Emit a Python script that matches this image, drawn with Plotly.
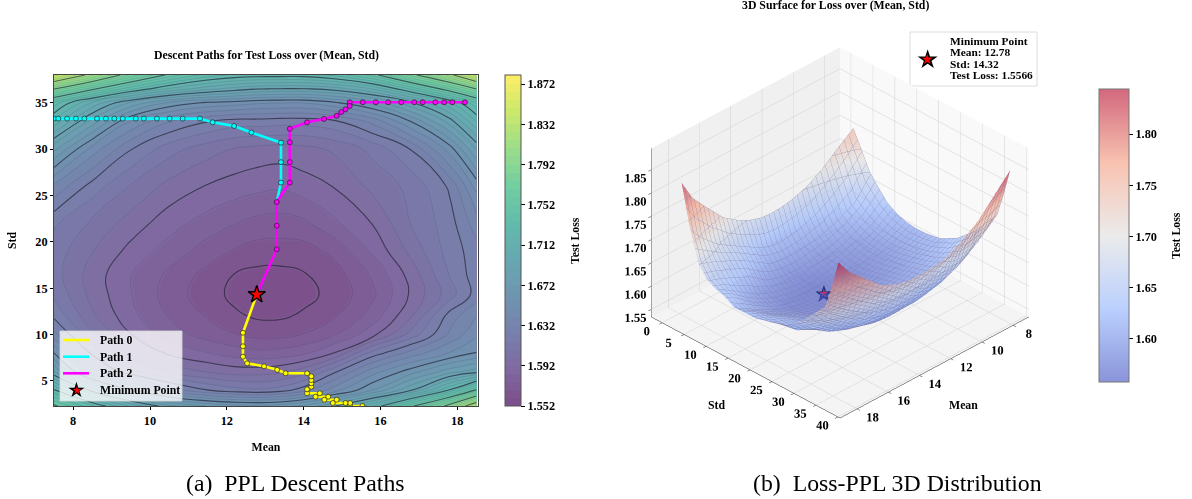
import plotly.graph_objects as go

W, H = 1192, 499
SERIF = "Liberation Serif"

# ---------- data ----------
mean_grid = [7.5, 8.5, 9.5, 10.5, 11.5, 12.2, 12.8, 13.4, 14, 14.8, 15.8, 16.8, 17.8, 18.5]
std_grid = [2.3, 4, 6, 8, 10, 12, 14.3, 16.5, 19, 22, 26, 30, 33, 35, 36.5, 38]
loss_grid = [
    [1.755, 1.730, 1.703, 1.683, 1.672, 1.668, 1.667, 1.669, 1.675, 1.688, 1.712, 1.750, 1.790, 1.835],
    [1.722, 1.685, 1.658, 1.637, 1.625, 1.620, 1.618, 1.621, 1.629, 1.645, 1.665, 1.688, 1.722, 1.755],
    [1.681, 1.637, 1.619, 1.607, 1.600, 1.597, 1.597, 1.599, 1.605, 1.623, 1.645, 1.661, 1.677, 1.685],
    [1.657, 1.623, 1.603, 1.591, 1.585, 1.581, 1.579, 1.580, 1.583, 1.593, 1.620, 1.636, 1.649, 1.657],
    [1.635, 1.610, 1.593, 1.581, 1.573, 1.569, 1.566, 1.566, 1.569, 1.576, 1.590, 1.612, 1.634, 1.647],
    [1.623, 1.602, 1.587, 1.576, 1.568, 1.562, 1.5594, 1.5594, 1.5618, 1.568, 1.580, 1.600, 1.628, 1.641],
    [1.615, 1.598, 1.585, 1.573, 1.564, 1.5586, 1.5566, 1.5572, 1.5582, 1.563, 1.575, 1.594, 1.613, 1.628],
    [1.612, 1.597, 1.585, 1.575, 1.566, 1.5604, 1.5584, 1.5582, 1.560, 1.565, 1.578, 1.596, 1.617, 1.629],
    [1.613, 1.601, 1.590, 1.581, 1.573, 1.568, 1.565, 1.565, 1.565, 1.571, 1.586, 1.603, 1.620, 1.629],
    [1.618, 1.607, 1.597, 1.588, 1.581, 1.577, 1.574, 1.573, 1.575, 1.583, 1.593, 1.609, 1.621, 1.637],
    [1.639, 1.621, 1.608, 1.598, 1.592, 1.589, 1.587, 1.586, 1.589, 1.593, 1.603, 1.611, 1.626, 1.651],
    [1.674, 1.645, 1.625, 1.612, 1.604, 1.600, 1.598, 1.597, 1.598, 1.602, 1.611, 1.625, 1.652, 1.681],
    [1.711, 1.677, 1.648, 1.633, 1.625, 1.621, 1.621, 1.620, 1.620, 1.623, 1.635, 1.657, 1.684, 1.713],
    [1.733, 1.703, 1.679, 1.663, 1.655, 1.653, 1.650, 1.649, 1.649, 1.655, 1.667, 1.687, 1.711, 1.735],
    [1.785, 1.755, 1.730, 1.711, 1.699, 1.693, 1.689, 1.688, 1.688, 1.692, 1.705, 1.730, 1.760, 1.785],
    [1.845, 1.810, 1.775, 1.750, 1.733, 1.727, 1.725, 1.725, 1.725, 1.731, 1.748, 1.780, 1.812, 1.845],
]

path0_mean = [15.53, 15.21, 15.21, 15.09, 14.76, 14.86, 14.54, 14.64, 14.31, 14.42, 14.09, 14.09, 14.2, 14.2, 14.2, 14.2,
              14.09, 13.53, 13.31, 12.97, 12.53, 12.42, 12.42, 12.42, 12.78]
path0_std = [2.3, 2.3, 2.62, 2.62, 2.62, 2.98, 2.98, 3.3, 3.3, 3.67, 3.67, 4.1, 4.38, 4.75, 5.1, 5.5,
             5.83, 5.83, 6.2, 6.58, 6.9, 7.62, 8.74, 10.2, 14.32]
path1_mean = [7.5, 7.61, 7.84, 8.07, 8.29, 8.62, 8.85, 9.07, 9.29, 9.63, 9.84, 10.18, 10.51, 10.85, 11.3,
              11.63, 12.19, 12.64, 13.41, 13.41, 13.41, 13.3]
path1_std = [33.3, 33.3, 33.3, 33.3, 33.3, 33.3, 33.3, 33.3, 33.3, 33.3, 33.3, 33.3, 33.3, 33.3, 33.3,
             32.9, 32.5, 31.8, 30.7, 28.6, 26.4, 24.3]
path2_mean = [18.2, 17.87, 17.66, 17.43, 17.1, 16.88, 16.54, 16.2, 15.88, 15.54, 15.2, 15.2, 15.09, 14.98, 14.86,
              14.53, 14.09, 13.64, 13.64, 13.64, 13.64, 13.3, 13.3, 13.3, 12.78]
path2_std = [35.06, 35.06, 35.06, 35.06, 35.06, 35.06, 35.06, 35.06, 35.06, 35.06, 35.06, 34.66, 34.3, 34.0, 33.6,
             33.26, 32.9, 32.2, 30.75, 28.6, 26.4, 24.3, 21.75, 19.2, 14.32]
path_names = ["Path 0", "Path 1", "Path 2"]
path_colors = ["#ffff00", "#00ffff", "#ff00ff"]

min_mean, min_std, min_loss = 12.78, 14.32, 1.5566
min_lines = ["Minimum Point", "Mean: 12.78", "Std: 14.32", "Test Loss: 1.5566"]

left_cbar_ticks = [1.552, 1.592, 1.632, 1.672, 1.712, 1.752, 1.792, 1.832, 1.872]
right_cbar_ticks = [1.60, 1.65, 1.70, 1.75, 1.80]
z_ticks = [1.55, 1.60, 1.65, 1.70, 1.75, 1.80, 1.85]
std_ticks_3d = [0, 5, 10, 15, 20, 25, 30, 35, 40]
mean_ticks_3d = [8, 10, 12, 14, 16, 18]

# viridis and coolwarm as they look after the alpha of the original
viridis_soft = ["#7c4d87", "#7f69a0", "#7880ac", "#6f95b0", "#67a8b0",
                "#62bbac", "#72cda1", "#9add8a", "#cbe86b", "#feee66"]
coolwarm_soft = ["#8994d9", "#bbd0fe", "#ebebeb", "#f8c2b0", "#d2687d"]
coolwarm = ["#3b4cc0", "#8db0fe", "#dddddd", "#f49a7b", "#b40426"]


def scale(cols):
    return [[i / (len(cols) - 1), c] for i, c in enumerate(cols)]


def px_x(p):
    return p / W


def px_y(p):
    return 1 - p / H


bold = dict(family=SERIF, size=12.3, color="black", weight="bold")
LABEL = 11.8
fig = go.Figure()

# ---------- left panel ----------
fig.add_trace(go.Contour(
    x=mean_grid, y=std_grid, z=loss_grid, zmin=1.552, zmax=1.881,
    colorscale=scale(viridis_soft), autocontour=False,
    contours=dict(coloring="fill", start=1.552, end=1.88, size=0.008),
    line=dict(width=0, smoothing=1.3),
    showlegend=False, hoverinfo="skip",
    colorbar=dict(x=px_x(505), xanchor="left", y=px_y(240.5), yanchor="middle",
                  len=331 / H, thickness=16, xpad=0, ypad=0,
                  outlinecolor="#555", outlinewidth=1, ticks="outside", ticklen=4, tickcolor="black",
                  tickmode="array", tickvals=left_cbar_ticks, ticktext=[f"{t:.3f}" for t in left_cbar_ticks],
                  tickfont=bold),
))
fig.add_trace(go.Contour(
    x=mean_grid, y=std_grid, z=loss_grid, autocontour=False, showscale=False,
    contours=dict(coloring="none", start=1.5526, end=1.8806, size=0.008),
    line=dict(width=0.5, color="rgba(40,40,60,0.28)", smoothing=1.3),
    showlegend=False, hoverinfo="skip",
))
fig.add_trace(go.Contour(
    x=mean_grid, y=std_grid, z=loss_grid, autocontour=False, showscale=False,
    contours=dict(coloring="none", start=1.5606, end=1.8486, size=0.032),
    line=dict(width=1.1, color="rgba(30,30,45,0.6)", smoothing=1.3),
    showlegend=False, hoverinfo="skip",
))

paths = [(path0_mean, path0_std), (path1_mean, path1_std), (path2_mean, path2_std)]
for (mx, sx), name, col in zip(paths, path_names, path_colors):
    fig.add_trace(go.Scatter(x=mx, y=sx, mode="lines", name=name, showlegend=False,
                             line=dict(color=col, width=2.6), hoverinfo="skip"))
for (mx, sx), name, col in zip(paths, path_names, path_colors):
    fig.add_trace(go.Scatter(x=mx[:-1], y=sx[:-1], mode="markers", showlegend=False,
                             marker=dict(color=col, size=5, line=dict(color="#222", width=0.7)),
                             hoverinfo="skip"))
fig.add_trace(go.Scatter(x=[min_mean], y=[min_std], mode="markers", showlegend=False,
                         marker=dict(symbol="star", color="red", size=13, line=dict(color="black", width=1.4)),
                         hoverinfo="skip"))

# ---------- right panel ----------
fig.add_trace(go.Surface(
    x=mean_grid, y=std_grid, z=loss_grid, cmin=1.558, cmax=1.844,
    colorscale=scale(coolwarm), opacity=0.62, scene="scene", showscale=False,
    lighting=dict(ambient=1.0, diffuse=0.1, specular=0.0, roughness=1.0),
    contours=dict(
        x=dict(show=True, start=7.5, end=18.5, size=0.3, color="rgba(60,60,80,0.5)", width=1),
        y=dict(show=True, start=2.3, end=38, size=1.0, color="rgba(60,60,80,0.5)", width=1),
        z=dict(show=True, start=1.68, end=1.84, size=0.04, color="rgba(80,80,90,0.6)", width=1),
    ),
    hoverinfo="skip",
))
fig.add_trace(go.Scatter(x=[None], y=[None], mode="markers", showlegend=False, hoverinfo="skip",
                         marker=dict(color=[1.7], cmin=1.558, cmax=1.844, colorscale=scale(coolwarm_soft),
                                     showscale=True,
                                     colorbar=dict(x=px_x(1099), xanchor="left", y=px_y(235.5), yanchor="middle",
                                                   len=293 / H, thickness=30, xpad=0, ypad=0,
                                                   outlinecolor="#777", outlinewidth=1, ticks="outside", ticklen=4,
                                                   tickcolor="black", tickmode="array", tickvals=right_cbar_ticks,
                                                   ticktext=[f"{t:.2f}" for t in right_cbar_ticks], tickfont=bold))))
fig.add_trace(go.Scatter3d(x=[min_mean], y=[min_std], z=[min_loss], mode="text", text=["★"],
                           textposition="middle center",
                           textfont=dict(family="DejaVu Sans", size=24, color="#1c2a78"),
                           showlegend=False, hoverinfo="skip"))
fig.add_trace(go.Scatter3d(x=[min_mean], y=[min_std], z=[min_loss], mode="text", text=["★"],
                           textposition="middle center",
                           textfont=dict(family="DejaVu Sans", size=12, color="#c0306e"),
                           showlegend=False, hoverinfo="skip"))

axis3d = dict(showbackground=True, gridcolor="#cfcfcf", gridwidth=1, showline=True, linecolor="#222", linewidth=1,
              ticks="outside", ticklen=4, tickcolor="#222", tickangle=0,
              tickfont=dict(family=SERIF, size=12.3, color="black", weight="bold"),
              showspikes=False, zeroline=False, tickmode="array", title=dict(text=""))


def ax3d(**kw):
    d = dict(axis3d)
    d.update(kw)
    return d


def note(text, x, y, size, **kw):
    return dict(text=text, x=px_x(x), y=px_y(y), xref="paper", yref="paper", showarrow=False,
                xanchor=kw.pop("xanchor", "center"), yanchor="middle", font=dict(family=kw.pop("family", SERIF), size=size, color=kw.pop("color", "black")), **kw)


legend_rows = [340, 356.7, 373.3]
legend_shapes = [dict(type="rect", xref="paper", yref="paper", x0=px_x(60), x1=px_x(182), y0=px_y(401), y1=px_y(331),
                      line=dict(color="rgba(215,215,215,0.8)", width=1), fillcolor="rgba(255,255,255,0.78)", layer="above")]
for ry, col in zip(legend_rows, path_colors):
    legend_shapes.append(dict(type="line", xref="paper", yref="paper", x0=px_x(63), x1=px_x(89), y0=px_y(ry), y1=px_y(ry),
                              line=dict(color=col, width=2.6), layer="above"))
legend_notes = [note(f"<b>{n}</b>", 98, ry, LABEL, xanchor="left") for n, ry in zip(path_names, legend_rows)]
legend_notes += [note("<b>Minimum Point</b>", 98, 390, LABEL, xanchor="left"),
                 note("★", 76.5, 390, 21, family="DejaVu Sans"),
                 note("★", 76.5, 390, 11, family="DejaVu Sans", color="red")]
box_notes = [note(f"<b>{t}</b>", 947.5, ry, 11.4, xanchor="left") for t, ry in zip(min_lines, [41, 52.5, 64, 75.5])]

fig.update_layout(
    width=W, height=H, autosize=False, paper_bgcolor="white", plot_bgcolor="white",
    margin=dict(l=0, r=0, t=0, b=0, autoexpand=False), showlegend=False,
    font=dict(family=SERIF, color="black"),
    xaxis=dict(domain=[px_x(54), px_x(478)], range=[7.5, 18.54], tickvals=[8, 10, 12, 14, 16, 18],
               ticks="outside", ticklen=3, tickcolor="black", tickfont=bold, showgrid=False, zeroline=False,
               showline=True, mirror=True, linecolor="#444", linewidth=1,
               title=dict(text="<b>Mean</b>", font=dict(family=SERIF, size=LABEL), standoff=15)),
    yaxis=dict(domain=[px_y(406), px_y(75)], range=[2.3, 38], tickvals=[5, 10, 15, 20, 25, 30, 35],
               ticks="outside", ticklen=3, tickcolor="black", tickfont=bold, showgrid=False, zeroline=False,
               showline=True, mirror=True, linecolor="#444", linewidth=1,
               title=dict(text="<b>Std</b>", font=dict(family=SERIF, size=LABEL), standoff=16)),
    scene=dict(
        domain=dict(x=[px_x(570), px_x(1110)], y=[0.0, 1.0]),
        aspectmode="manual", aspectratio=dict(x=1.07, y=1.07, z=0.80),
        camera=dict(eye=dict(x=1.37, y=1.37, z=1.15), center=dict(x=0, y=0, z=-0.08), up=dict(x=0, y=0, z=1),
                    projection=dict(type="orthographic")),
        xaxis=ax3d(range=[7.0, 19.1], tickvals=mean_ticks_3d, backgroundcolor="#f9f9f9"),
        yaxis=ax3d(range=[-2.5, 40.5], tickvals=std_ticks_3d, backgroundcolor="#f0f0f0"),
        zaxis=ax3d(range=[1.534, 1.896], tickvals=z_ticks, ticktext=[f"{t:.2f}" for t in z_ticks],
                   backgroundcolor="#f4f4f4"),
    ),
    annotations=[
        note("<b>Descent Paths for Test Loss over (Mean, Std)</b>", 266, 55, LABEL),
        note("<b>3D Surface for Loss over (Mean, Std)</b>", 835, 5, LABEL),
        note("(a)\u00a0\u00a0PPL Descent Paths", 295, 483, 23.8),
        note("(b)\u00a0\u00a0Loss-PPL 3D Distribution", 897, 483, 23.8),
        note("<b>Test Loss</b>", 575, 241, LABEL, textangle=-90),
        note("<b>Test Loss</b>", 1176, 236, LABEL, textangle=-90),
        note("<b>Mean</b>", 963, 405, LABEL),
        note("<b>Std</b>", 716, 405, LABEL),
        note("★", 927, 59, 26, family="DejaVu Sans"),
        note("★", 927, 59, 14, family="DejaVu Sans", color="red"),
    ] + box_notes + legend_notes,
    shapes=[dict(type="rect", xref="paper", yref="paper", x0=px_x(910), x1=px_x(1037), y0=px_y(86), y1=px_y(32),
                 line=dict(color="#dddddd", width=1), fillcolor="white", layer="below")] + legend_shapes,
)

fig.write_html("out.html", post_script="document.body.style.margin='0';", config={"displayModeBar": False})
